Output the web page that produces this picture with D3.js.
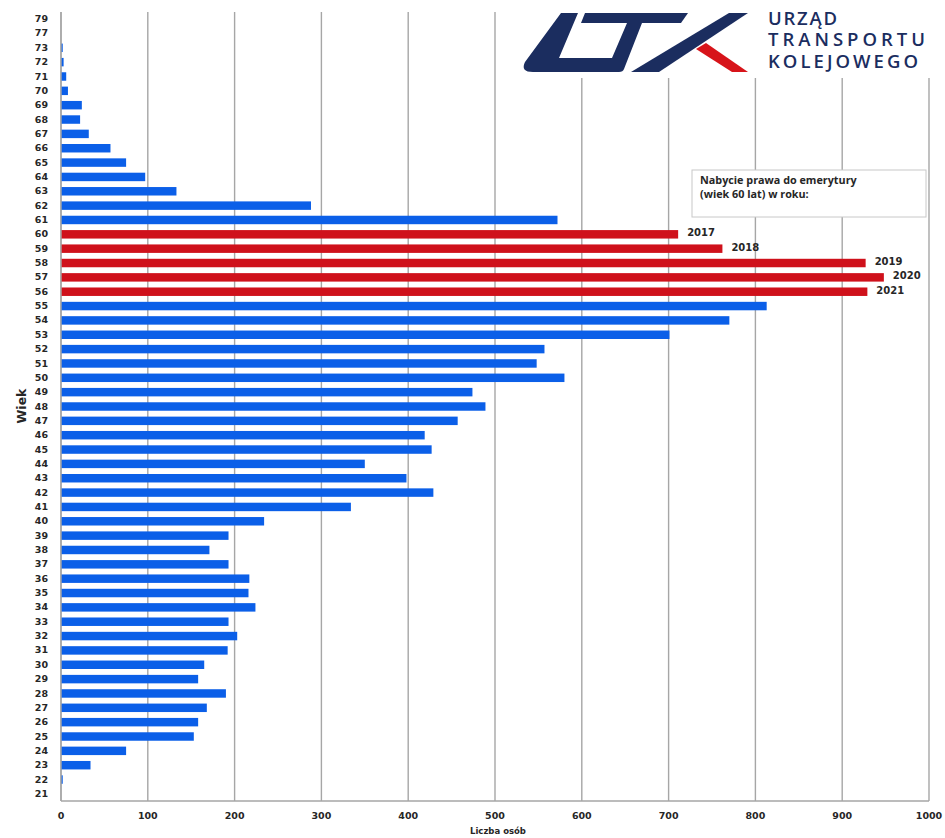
<!DOCTYPE html>
<meta charset="utf-8">
<style>
  body { margin: 0; background: #fff; }
  .tick-label { font-family: "DejaVu Sans", Verdana, sans-serif; font-weight: bold; fill: #262626; }
  .grid line { stroke: #a6a6a6; stroke-width: 1.4; }
</style>
<html>
<body>
<script src="https://cdn.jsdelivr.net/npm/d3@7"></script>
<script>
// ages (top to bottom) and number of people of each age
var ages = ["79","77","73","72","71","70","69","68","67","66","65","64","63","62","61","60","59","58","57","56",
            "55","54","53","52","51","50","49","48","47","46","45","44","43","42","41","40","39","38","37","36",
            "35","34","33","32","31","30","29","28","27","26","25","24","23","22","21"];
var counts = [0,0,2,3,6,8,24,22,32,57,75,97,133,288,572,711,762,927,948,929,
              813,770,701,557,548,580,474,489,457,419,427,350,398,429,334,234,193,171,193,217,
              216,224,193,203,192,165,158,190,168,158,153,75,34,2,0];
// ages that reach retirement (60) in the given year
var retireAges = ["60","59","58","57","56"];
var retireYears = ["2017","2018","2019","2020","2021"];
var xTicks = [0,100,200,300,400,500,600,700,800,900,1000];

var width = 945, height = 838;
var margin = {top: 12, right: 16, bottom: 37, left: 61};

var data = ages.map(function(a, i) { return {age: a, value: counts[i]}; });

var svg = d3.select("body").append("svg")
    .attr("width", width)
    .attr("height", height);

var x = d3.scaleLinear()
    .domain([0, 1000])
    .range([margin.left, width - margin.right]);

var y = d3.scaleBand()
    .domain(ages)
    .range([margin.top, height - margin.bottom])
    .paddingInner(0.41)
    .paddingOuter(0.2);

// vertical grid lines
svg.append("g")
    .attr("class", "grid")
  .selectAll("line")
    .data(xTicks)
  .enter().append("line")
    .attr("x1", function(d) { return x(d); })
    .attr("x2", function(d) { return x(d); })
    .attr("y1", margin.top)
    .attr("y2", height - margin.bottom);

// bottom axis line
svg.append("line")
    .attr("x1", x(0)).attr("x2", x(1000))
    .attr("y1", height - margin.bottom).attr("y2", height - margin.bottom)
    .style("stroke", "#a6a6a6").style("stroke-width", 1.4);

// white area behind the logo hides the grid
svg.append("rect")
    .attr("x", 515).attr("y", 0)
    .attr("width", width - 515).attr("height", 78)
    .style("fill", "#fff");

// bars
svg.append("g")
  .selectAll("rect")
    .data(data)
  .enter().append("rect")
    .attr("x", x(0))
    .attr("y", function(d) { return y(d.age); })
    .attr("width", function(d) { return x(d.value) - x(0); })
    .attr("height", y.bandwidth())
    .style("fill", function(d) { return retireAges.indexOf(d.age) >= 0 ? "#cf111b" : "#0b5fe8"; });

// year labels next to red bars
svg.append("g")
  .selectAll("text")
    .data(retireAges)
  .enter().append("text")
    .attr("class", "tick-label")
    .attr("x", function(d) { return x(counts[ages.indexOf(d)]) + 9; })
    .attr("y", function(d) { return y(d) + y.bandwidth() / 2; })
    .attr("dy", "0.2em")
    .style("font-size", "10px")
    .text(function(d, i) { return retireYears[i]; });

// y axis
var yAxis = svg.append("g")
    .attr("transform", "translate(" + x(0) + ",0)")
    .call(d3.axisLeft(y).tickSize(0).tickPadding(13));
yAxis.select(".domain").style("stroke", "#a6a6a6").style("stroke-width", 1.4)
    .attr("d", "M0," + margin.top + "V" + (height - margin.bottom));
yAxis.selectAll("text").attr("class", "tick-label").style("font-size", "9.5px");

// x axis labels
svg.append("g")
  .selectAll("text")
    .data(xTicks)
  .enter().append("text")
    .attr("class", "tick-label")
    .attr("x", function(d) { return x(d); })
    .attr("y", 819)
    .attr("text-anchor", "middle")
    .style("font-size", "9.5px")
    .text(function(d) { return d; });

svg.append("text")
    .attr("class", "tick-label")
    .attr("x", 498).attr("y", 834)
    .attr("text-anchor", "middle")
    .style("font-size", "8.5px")
    .text("Liczba osób");

svg.append("text")
    .attr("class", "tick-label")
    .attr("transform", "translate(26,406) rotate(-90)")
    .attr("text-anchor", "middle")
    .style("font-size", "12.5px")
    .text("Wiek");

// legend box
svg.append("rect")
    .attr("x", 692).attr("y", 170)
    .attr("width", 234).attr("height", 47)
    .style("fill", "#fff").style("stroke", "#c8c8c8");
svg.append("text")
    .attr("x", 700).attr("y", 184)
    .style("font-family", "'Open Sans', sans-serif").style("font-weight", 700)
    .style("font-size", "10.8px").style("fill", "#262626")
    .text("Nabycie prawa do emerytury");
svg.append("text")
    .attr("x", 700).attr("y", 198)
    .style("font-family", "'Open Sans', sans-serif").style("font-weight", 700)
    .style("font-size", "10.8px").style("fill", "#262626")
    .text("(wiek 60 lat) w roku:");

// logo
var navy = "#1b2d5f";
var logo = svg.append("g");
logo.append("path")
    .attr("d", "M561,13 L578,13 L559,58 L612,58 L627,23 L642,23 L624,69 Q623,72 619,72 L533,72 Q520,72 525,62 Z")
    .style("fill", navy);
logo.append("path")
    .attr("d", "M585,13 L688,13 L681,23 L581,23 Z")
    .style("fill", navy);
logo.append("path")
    .attr("d", "M729,13 L748,13 L659,72 L631,72 Z")
    .style("fill", navy);
logo.append("path")
    .attr("d", "M696,49 L706,43 L748,72 L732,72 Z")
    .style("fill", "#d7141a");

var logoLines = ["URZĄD", "TRANSPORTU", "KOLEJOWEGO"];
var logoWidths = [69, 157, 150];
logo.selectAll("text.logo")
    .data(logoLines)
  .enter().append("text")
    .attr("class", "logo")
    .attr("x", 768)
    .attr("y", function(d, i) { return 25 + i * 21.3; })
    .attr("textLength", function(d, i) { return logoWidths[i]; })
    .attr("lengthAdjust", "spacing")
    .style("font-family", "'Open Sans', sans-serif")
    .style("font-weight", 600)
    .style("font-size", "18.5px")
    .style("fill", navy)
    .text(function(d) { return d; });
</script>
</body>
</html>
